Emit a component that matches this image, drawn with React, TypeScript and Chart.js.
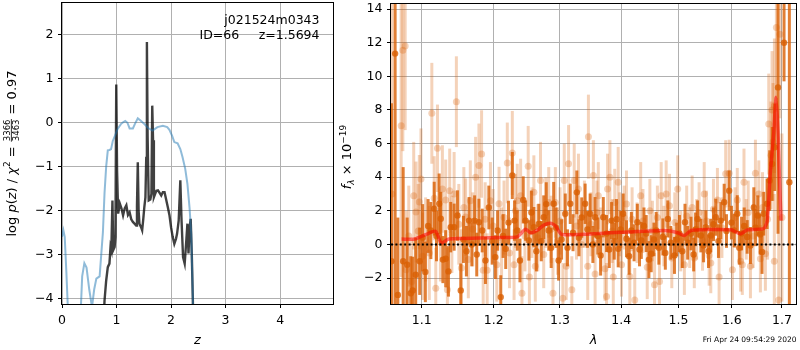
import React, { useEffect, useRef } from 'react';
import { Chart, registerables } from 'chart.js';

Chart.register(...registerables);

// ---------------- left panel: log p(z) ----------------
const zTicks = [0, 1, 2, 3, 4];
const logpTicks = [-4, -3, -2, -1, 0, 1, 2];

const zPrior = [0, 0.025, 0.05, 0.08, 0.11, 0.2, 0.34, 0.37, 0.41, 0.45, 0.5, 0.55, 0.59, 0.63, 0.69, 0.72, 0.75, 0.78, 0.81, 0.84, 0.87, 0.9, 0.93, 0.97, 1.02, 1.08, 1.12, 1.16, 1.2, 1.24, 1.3, 1.34, 1.39, 1.44, 1.51, 1.58, 1.66, 1.75, 1.85, 1.93, 1.97, 2.02, 2.06, 2.12, 2.17, 2.21, 2.26, 2.3, 2.34, 2.37, 2.4, 2.43];
const logpPrior = [-2.6, -2.45, -2.6, -3.4, -4.3, -6, -4.4, -3.5, -3.2, -3.3, -3.8, -4.2, -3.8, -3.55, -3.5, -3.0, -2.5, -1.6, -1.0, -0.63, -0.62, -0.6, -0.42, -0.3, -0.14, -0.03, 0.01, 0.04, 0.0, -0.13, -0.13, -0.02, 0.1, 0.05, -0.03, -0.12, -0.18, -0.1, -0.07, -0.1, -0.16, -0.3, -0.44, -0.47, -0.6, -0.78, -1.05, -1.39, -1.95, -2.53, -4.0, -6];

const zFit = [0.76, 0.78, 0.81, 0.84, 0.87, 0.89, 0.905, 0.925, 0.94, 0.965, 0.98, 0.995, 1.01, 1.03, 1.06, 1.09, 1.12, 1.15, 1.18, 1.21, 1.24, 1.27, 1.3, 1.33, 1.36, 1.375, 1.39, 1.405, 1.42, 1.45, 1.47, 1.49, 1.51, 1.53, 1.545, 1.557, 1.57, 1.59, 1.62, 1.64, 1.655, 1.67, 1.685, 1.7, 1.73, 1.76, 1.79, 1.82, 1.85, 1.88, 1.91, 1.94, 1.97, 2.0, 2.03, 2.06, 2.09, 2.11, 2.14, 2.17, 2.19, 2.22, 2.25, 2.28, 2.3, 2.32, 2.34, 2.36, 2.38, 2.4, 2.42];
const logpFit = [-4.6, -4.05, -3.6, -3.29, -3.21, -2.83, -2.9, -1.77, -2.9, -2.83, -2.6, 0.87, -1.1, -2.07, -1.84, -1.95, -2.11, -1.95, -1.88, -2.1, -2.04, -2.2, -2.26, -2.3, -2.34, -1.9, -0.9, -2.0, -2.3, -2.38, -2.45, -2.2, -1.92, -1.7, -0.8, 1.84, -0.3, -1.77, -1.75, -1.62, 0.39, -0.4, -1.7, -1.65, -1.55, -1.54, -1.6, -1.66, -1.58, -1.58, -1.75, -1.92, -2.1, -2.38, -2.6, -2.76, -2.65, -2.53, -2.23, -1.31, -2.15, -3.06, -3.21, -2.68, -2.3, -2.98, -2.38, -2.19, -2.98, -4.05, -6];

// ---------------- right panel: spectrum ----------------
const lamTicks = [1.1, 1.2, 1.3, 1.4, 1.5, 1.6, 1.7];
const fluxTicks = [-2, 0, 2, 4, 6, 8, 10, 12, 14];

const lamDark = [1.0605, 1.0653, 1.0688, 1.0757, 1.0809, 1.0856, 1.0882, 1.0921, 1.0974, 1.1013,
  1.1049, 1.1086, 1.1123, 1.1168, 1.1199, 1.1235, 1.1257, 1.1286, 1.1324, 1.1362,
  1.1393, 1.1440, 1.1486, 1.1532, 1.1569, 1.1611, 1.1648, 1.1687, 1.1727, 1.1757,
  1.1788, 1.1835, 1.1881, 1.1930, 1.1978, 1.2024, 1.2057, 1.2103, 1.2137, 1.2176,
  1.2217, 1.2273, 1.2306, 1.2347, 1.2387, 1.2436, 1.2472, 1.2521, 1.2559, 1.2597,
  1.2635, 1.2672, 1.2710, 1.2748, 1.2787, 1.2825, 1.2863, 1.2902, 1.2940, 1.2979,
  1.3026, 1.3084, 1.3120, 1.3163, 1.3207, 1.3268, 1.3302, 1.3347, 1.3402, 1.3439,
  1.3483, 1.3528, 1.3564, 1.3609, 1.3655, 1.3699, 1.3753, 1.3798, 1.3837, 1.3882,
  1.3920, 1.3948, 1.3990, 1.4032, 1.4088, 1.4133, 1.4172, 1.4218, 1.4274, 1.4312,
  1.4343, 1.4389, 1.4428, 1.4475, 1.4515, 1.4563, 1.4603, 1.4650, 1.4721, 1.4765,
  1.4810, 1.4863, 1.4929, 1.4970, 1.5019, 1.5070, 1.5120, 1.5169, 1.5230, 1.5279,
  1.5315, 1.5352, 1.5413, 1.5463, 1.5505, 1.5556, 1.5599, 1.5649, 1.5693, 1.5744,
  1.5788, 1.5853, 1.5897, 1.5949, 1.5993, 1.6046, 1.6106, 1.6145, 1.6190, 1.6241,
  1.6300, 1.6364, 1.6431, 1.6466, 1.6510, 1.6555, 1.6595, 1.6629, 1.6696, 1.6750,
  1.6797, 1.6851, 1.6918, 1.7042, 1.7152];
const fluxDark = [-1.0, 11.35, -3.0, -1.0, -1.2, -2.9, -2.73, -1.8, -1.0, 0.4,
  -1.63, 1.1, 0.83, 2.13, 0.5, 2.42, 1.53, -0.9, -0.85, -1.6,
  1.03, 1.03, 1.72, -2.73, 0.3, -0.4, 1.42, 0.0, 1.42, -0.6,
  1.32, 0.83, -0.95, 2.2, 0.2, -0.75, 0.83, -3.13, 0.5, -0.26,
  1.3, 4.1, 1.42, 0.83, -0.95, 2.65, 1.42, 0.24, 1.9, 1.03,
  -0.4, 1.22, 0.2, 1.62, 2.4, 0.83, -0.2, 2.42, 1.0, -0.95,
  0.3, 1.83, -0.2, 2.42, 0.7, 3.1, 0.4, 1.6, 2.42, 0.9,
  1.83, 0.0, 1.62, 0.5, -0.65, 1.62, 0.65, -0.3, 1.42, 0.2,
  1.5, -0.26, 0.9, 1.83, 0.34, -0.7, 0.83, 0.1, 1.32, -0.3,
  0.24, 1.1, 0.65, -0.9, -0.55, 0.3, 0.83, -0.2, 0.45, -0.5,
  1.52, 0.1, -0.65, 0.3, 0.65, -0.4, 1.32, 0.1, 0.65, -0.6,
  0.9, 1.52, 0.53, -0.06, 1.03, -0.4, 0.53, 1.2, 1.62, 0.2,
  1.42, 2.51, 0.8, 3.2, 1.3, 0.83, 1.83, -0.2, 0.65, 1.1,
  0.45, -0.06, 2.2, 1.0, 1.72, 0.6, -0.45, 1.83, 2.42, 3.8,
  4.79, 5.78, 9.34, 12.0, 3.7];
const errDark = [9.4, 20, 4.6, 5.6, 2.8, 2.2, 2.0, 2.2, 2.0, 2.0,
  1.8, 1.6, 1.7, 1.6, 1.5, 1.8, 1.6, 1.4, 1.7, 1.5,
  1.5, 1.4, 1.5, 1.6, 1.4, 1.5, 1.4, 1.3, 1.5, 1.3,
  1.4, 1.3, 1.4, 1.3, 1.4, 1.3, 1.2, 1.3, 1.3, 1.2,
  1.3, 1.4, 1.2, 1.2, 1.3, 1.4, 1.2, 1.2, 1.3, 1.2,
  1.2, 1.2, 1.2, 1.3, 1.3, 1.2, 1.2, 1.3, 1.2, 1.2,
  1.2, 1.2, 1.1, 1.2, 1.1, 1.3, 1.1, 1.2, 1.2, 1.1,
  1.2, 1.1, 1.2, 1.1, 1.2, 1.2, 1.1, 1.1, 1.1, 1.1,
  1.2, 1.1, 1.1, 1.2, 1.1, 1.1, 1.1, 1.1, 1.1, 1.0,
  1.1, 1.1, 1.1, 1.1, 1.1, 1.0, 1.1, 1.0, 1.1, 1.0,
  1.1, 1.0, 1.1, 1.0, 1.1, 1.0, 1.1, 1.0, 1.0, 1.0,
  1.0, 1.1, 1.0, 1.0, 1.0, 1.0, 1.0, 1.0, 1.1, 1.0,
  1.1, 1.1, 1.0, 1.2, 1.0, 1.0, 1.1, 1.0, 1.0, 1.1,
  1.0, 1.1, 1.2, 1.1, 1.2, 1.2, 1.3, 1.3, 1.5, 1.8,
  2.2, 2.6, 8.7, 2.3, 25];

const lamLight = [1.0612, 1.0731, 1.0753, 1.0783, 1.0795, 1.0830, 1.0869, 1.0895, 1.0925, 1.0954,
  1.0969, 1.0991, 1.1013, 1.1053, 1.1102, 1.1136, 1.1168, 1.1189, 1.1212, 1.1252,
  1.1279, 1.1324, 1.1347, 1.1379, 1.1409, 1.1440, 1.1471, 1.1505, 1.1541, 1.1575,
  1.1600, 1.1638, 1.1666, 1.1701, 1.1741, 1.1788, 1.1826, 1.1849, 1.1877, 1.1906,
  1.1953, 1.1992, 1.2045, 1.2078, 1.2115, 1.2151, 1.2199, 1.2232, 1.2273, 1.2299,
  1.2320, 1.2347, 1.2397, 1.2417, 1.2462, 1.2511, 1.2529, 1.2567, 1.2597, 1.2619,
  1.2657, 1.2698, 1.2748, 1.2779, 1.2825, 1.2863, 1.2891, 1.2928, 1.2963, 1.3002,
  1.3046, 1.3068, 1.3099, 1.3136, 1.3188, 1.3226, 1.3263, 1.3294, 1.3342, 1.3390,
  1.3444, 1.3455, 1.3496, 1.3536, 1.3564, 1.3593, 1.3617, 1.3658, 1.3727, 1.3753,
  1.3770, 1.3809, 1.3848, 1.3865, 1.3890, 1.3948, 1.3973, 1.4004, 1.4049, 1.4088,
  1.4145, 1.4184, 1.4230, 1.4269, 1.4332, 1.4372, 1.4446, 1.4492, 1.4536, 1.4574,
  1.4624, 1.4662, 1.4691, 1.4739, 1.4780, 1.4840, 1.4881, 1.4935, 1.4988, 1.5042,
  1.5109, 1.5151, 1.5206, 1.5251, 1.5291, 1.5334, 1.5380, 1.5444, 1.5475, 1.5518,
  1.5568, 1.5599, 1.5649, 1.5724, 1.5756, 1.5810, 1.5882, 1.5949, 1.6012, 1.6061,
  1.6106, 1.6171, 1.6204, 1.6237, 1.6281, 1.6320, 1.6364, 1.6418, 1.6463, 1.6530,
  1.6562, 1.6605, 1.6662, 1.6706, 1.6730, 1.6776, 1.6797, 1.6817, 1.6843, 1.6845,
  1.6885, 1.6932, 1.6999, 1.6958];
const fluxLight = [3.0, 7.06, 11.55, 11.8, -1.5, 0.5, -2.2, 2.9, 1.93, 0.8,
  2.52, 3.9, -0.7, 0.3, -0.5, 7.8, 2.75, -2.6, 5.72, 0.2,
  3.3, 2.65, -2.7, 3.2, 0.6, 3.0, 8.49, 1.2, -1.4, 2.2,
  1.63, -0.9, 2.6, 0.9, 4.0, 4.69, 5.38, -1.54, 1.5, -1.54,
  2.6, 1.1, -1.2, 2.42, 0.1, 1.6, 4.85, -0.5, 5.44, -1.2,
  2.0, 2.6, 2.9, -2.9, 0.5, 4.65, -1.94, 1.3, 3.1, -1.3,
  0.4, 3.8, -0.6, 1.9, 2.5, 0.9, -2.9, 2.5, 0.2, 1.4,
  -3.2, 3.8, -1.3, 4.8, -2.7, 3.8, 1.1, 3.3, 0.0, 1.8,
  -1.3, 6.41, 1.2, 4.1, -1.75, 1.9, 2.9, 0.3, -1.45, -3.1,
  3.3, 4.0, 0.8, -1.94, 2.5, 3.7, 1.2, -1.2, 1.6, 2.4,
  -1.9, 1.5, -3.3, 0.7, 2.9, 1.4, -1.35, 2.0, 0.8, -2.4,
  1.6, -2.2, 2.9, 0.5, 3.0, 2.3, -0.8, 1.3, 3.3, 0.2,
  -1.2, 1.7, 0.4, 2.2, -0.8, 0.9, 1.9, 0.24, 3.0, 1.4,
  -0.65, -1.1, 2.1, 2.65, -1.94, 1.0, 4.2, 4.23, -1.5, 1.6,
  2.65, -1.0, -1.2, 3.7, 0.9, 1.9, -1.3, 0.5, 4.23, 3.0,
  -0.85, 2.2, -0.55, 1.5, 7.16, 5.3, 8.0, 6.1, -1.0, 8.25,
  12.9, -3.3, 1.6, 12.5];
const errLight = [12, 9, 6, 5, 3.5, 3.0, 2.5, 3.2, 3.0, 2.8,
  2.8, 3.0, 2.6, 2.5, 2.8, 3.0, 2.5, 2.4, 2.6, 2.4,
  2.6, 2.4, 2.5, 2.5, 2.3, 2.5, 2.7, 2.4, 2.3, 2.4,
  2.3, 2.3, 2.4, 2.2, 2.4, 2.5, 2.6, 2.3, 2.2, 2.2,
  2.3, 2.2, 2.2, 2.2, 2.1, 2.2, 2.4, 2.1, 2.5, 2.1,
  2.2, 2.2, 2.2, 2.2, 2.1, 2.4, 2.1, 2.1, 2.2, 2.1,
  2.0, 2.3, 2.0, 2.1, 2.1, 2.0, 2.1, 2.1, 2.0, 2.0,
  2.1, 2.2, 2.0, 2.3, 2.0, 2.2, 2.0, 2.1, 2.0, 2.0,
  2.0, 2.5, 1.9, 2.1, 2.0, 1.9, 2.0, 1.9, 1.9, 2.0,
  2.1, 2.2, 1.9, 1.9, 2.0, 2.1, 1.9, 1.9, 1.9, 2.0,
  1.9, 1.9, 1.9, 1.8, 2.0, 1.9, 1.9, 1.9, 1.8, 1.9,
  1.9, 1.9, 2.0, 1.8, 2.0, 1.9, 1.8, 1.8, 2.0, 1.8,
  1.8, 1.8, 1.8, 1.9, 1.8, 1.8, 1.8, 1.8, 1.9, 1.8,
  1.8, 1.8, 1.8, 1.9, 1.8, 1.8, 2.0, 2.0, 1.8, 1.8,
  1.9, 1.8, 1.8, 2.0, 1.8, 1.9, 1.9, 1.9, 2.0, 2.0,
  2.0, 2.1, 2.2, 2.4, 3.0, 3.2, 3.5, 3.5, 4.0, 4.0,
  5.0, 5.0, 5.0, 5.0];

const lamModel = [1.0736, 1.0908, 1.1062, 1.1186, 1.1263, 1.1353, 1.1468, 1.1792, 1.2126, 1.2346, 1.247, 1.2547, 1.265, 1.275, 1.285, 1.293, 1.303, 1.37, 1.475, 1.4989, 1.511, 1.523, 1.554, 1.598, 1.617, 1.63, 1.663, 1.67, 1.676, 1.683, 1.688, 1.692, 1.695, 1.698];
const fluxModel = [0.32, 0.32, 0.6, 0.78, 0.08, 0.3, 0.35, 0.38, 0.42, 0.45, 0.91, 0.69, 0.85, 1.15, 1.26, 1.1, 0.59, 0.67, 0.83, 0.7, 0.53, 0.83, 0.89, 0.87, 0.63, 0.87, 0.95, 1.42, 4.2, 6.6, 8.75, 6.6, 3.8, 1.42];

const lamZero = [1.06, 1.729];
const fluxZero = [0, 0];

// ---------------- helpers ----------------
const FONT = '"DejaVu Sans", "Liberation Sans", sans-serif';
const fmtNum = (v: number, d = -1) => {
  const s = d >= 0 ? Math.abs(v).toFixed(d) : String(Math.abs(v));
  return v < 0 ? '\u2212' + s : s;
};
const pts = (xs: number[], ys: number[]) => xs.map((x, i) => ({ x, y: ys[i] }));

const errBars = {
  id: 'errBars',
  beforeDatasetDraw(chart: any, args: any) {
    const ds: any = chart.data.datasets[args.index];
    if (!ds.errs) return;
    const { ctx, chartArea: a } = chart;
    const xs = chart.scales.x, ys = chart.scales.y;
    ctx.save();
    ctx.beginPath();
    ctx.rect(a.left, a.top, a.right - a.left, a.bottom - a.top);
    ctx.clip();
    ctx.strokeStyle = ds.errColor;
    ctx.lineWidth = ds.errWidth;
    ds.data.forEach((p: any, i: number) => {
      const px = xs.getPixelForValue(p.x);
      ctx.beginPath();
      ctx.moveTo(px, ys.getPixelForValue(p.y - ds.errs[i]));
      ctx.lineTo(px, ys.getPixelForValue(p.y + ds.errs[i]));
      ctx.stroke();
    });
    ctx.restore();
  },
};

const frame = {
  id: 'frame',
  afterDraw(chart: any) {
    const { ctx, chartArea: a } = chart;
    ctx.save();
    ctx.strokeStyle = '#000';
    ctx.lineWidth = 1;
    const l = Math.round(a.left) - 0.5, t = Math.round(a.top) - 0.5;
    const r = Math.round(a.right) + 0.5, b = Math.round(a.bottom) + 0.5;
    ctx.strokeRect(l, t, r - l, b - t);
    ctx.restore();
  },
};

type Part = [string, string, number];
function drawParts(ctx: CanvasRenderingContext2D, parts: (Part | 'FRAC')[], frac: [string, string] | null, fracFont: string) {
  let total = 0;
  const widths: number[] = [];
  let fracW = 0;
  if (frac) {
    ctx.font = fracFont;
    fracW = Math.max(ctx.measureText(frac[0]).width, ctx.measureText(frac[1]).width) + 2;
  }
  parts.forEach((p) => {
    if (p === 'FRAC') { widths.push(fracW); total += fracW; return; }
    ctx.font = p[1];
    const w = ctx.measureText(p[0]).width;
    widths.push(w);
    total += w;
  });
  let x = -total / 2;
  ctx.textBaseline = 'alphabetic';
  parts.forEach((p, i) => {
    if (p === 'FRAC' && frac) {
      ctx.font = fracFont;
      ctx.textAlign = 'center';
      const cx = x + fracW / 2;
      ctx.fillText(frac[0], cx, -5.6);
      ctx.fillText(frac[1], cx, 3.6);
      ctx.fillRect(x + 0.5, -4.6, fracW - 1, 0.8);
      ctx.textAlign = 'left';
    } else if (p !== 'FRAC') {
      ctx.font = p[1];
      ctx.textAlign = 'left';
      ctx.fillText(p[0], x, p[2]);
    }
    x += widths[i];
  });
}

const leftText = {
  id: 'leftText',
  afterDraw(chart: any) {
    const { ctx, chartArea: a } = chart;
    ctx.save();
    ctx.fillStyle = '#000';
    ctx.font = `12.5px ${FONT}`;
    ctx.textBaseline = 'alphabetic';
    ctx.textAlign = 'right';
    ctx.fillText('j021524m0343', 319.5, 23.5);
    ctx.fillText('z=1.5694', 319.5, 38.5);
    ctx.textAlign = 'left';
    ctx.fillText('ID=66', 199.5, 38.5);
    ctx.font = `italic 13px ${FONT}`;
    ctx.textAlign = 'center';
    ctx.fillText('z', (a.left + a.right) / 2, 344);
    ctx.translate(15.5, (a.top + a.bottom) / 2);
    ctx.rotate(-Math.PI / 2);
    const m = `13px ${FONT}`, it = `italic 13px ${FONT}`, sm = `9px ${FONT}`;
    drawParts(ctx, [['log ', m, 0], ['p', it, 0], ['(', m, 0], ['z', it, 0], [') / ', m, 0], ['\u03c7', it, 0], ['2', sm, -5.5], [' = ', m, 0], 'FRAC', [' = 0.97', m, 0]], ['3366', '3463'], `8.5px ${FONT}`);
    ctx.restore();
  },
};

const rightText = {
  id: 'rightText',
  afterDraw(chart: any) {
    const { ctx, chartArea: a } = chart;
    ctx.save();
    ctx.fillStyle = '#000';
    ctx.font = `italic 13px ${FONT}`;
    ctx.textAlign = 'center';
    ctx.textBaseline = 'alphabetic';
    ctx.fillText('\u03bb', (a.left + a.right) / 2, 344);
    ctx.font = `7.5px ${FONT}`;
    ctx.textAlign = 'right';
    ctx.fillText('Fri Apr 24 09:54:29 2020', 466.5, 342);
    ctx.translate(21, (a.top + a.bottom) / 2 + 3);
    ctx.rotate(-Math.PI / 2);
    const m = `13px ${FONT}`, it = `italic 13px ${FONT}`, sm = `9px ${FONT}`, smi = `italic 9px ${FONT}`;
    drawParts(ctx, [['f', it, 0], ['\u03bb', smi, 3], [' \u00d7 10', m, 0], ['\u221219', sm, -5.5]], null, sm);
    ctx.restore();
  },
};

const tickFont = { family: FONT, size: 12.5 };
const gridOpts = { color: '#b0b0b0', lineWidth: 1, tickColor: '#000', tickLength: 4, tickWidth: 1 };

export default function App() {
  const leftRef = useRef<HTMLCanvasElement>(null);
  const rightRef = useRef<HTMLCanvasElement>(null);

  useEffect(() => {
    const left = new Chart(leftRef.current as HTMLCanvasElement, {
      type: 'scatter',
      data: {
        datasets: [
          { data: pts(zPrior, logpPrior), showLine: true, borderColor: 'rgba(31,119,180,0.5)', borderWidth: 2, pointRadius: 0, tension: 0, clip: 0, order: 0 } as any,
          { data: pts(zFit, logpFit), showLine: true, borderColor: 'rgba(0,0,0,0.75)', borderWidth: 2.4, pointRadius: 0, tension: 0, clip: 0, order: 1 } as any,
        ],
      },
      options: {
        responsive: false,
        animation: false,
        devicePixelRatio: 1,
        events: [],
        layout: { padding: { left: 0, top: 3, right: 7, bottom: 0 } },
        plugins: { legend: { display: false }, tooltip: { enabled: false } },
        scales: {
          x: {
            type: 'linear', min: 0, max: 4.97,
            afterBuildTicks: (s: any) => { s.ticks = zTicks.map((v) => ({ value: v })); },
            afterFit: (s: any) => { s.height = 46; s.paddingLeft = 0; s.paddingRight = 0; },
            grid: gridOpts, border: { display: false },
            ticks: { color: '#000', font: tickFont, padding: 5, maxRotation: 0, autoSkip: false, callback: (v: any) => fmtNum(Number(v)) },
          },
          y: {
            type: 'linear', min: -4.13, max: 2.729,
            afterBuildTicks: (s: any) => { s.ticks = logpTicks.map((v) => ({ value: v })); },
            afterFit: (s: any) => { s.width = 62; s.paddingTop = 0; s.paddingBottom = 0; },
            grid: gridOpts, border: { display: false },
            ticks: { color: '#000', font: tickFont, padding: 4.5, autoSkip: false, callback: (v: any) => fmtNum(Number(v)) },
          },
        },
      } as any,
      plugins: [frame, leftText],
    });

    const right = new Chart(rightRef.current as HTMLCanvasElement, {
      type: 'scatter',
      data: {
        datasets: [
          { data: pts(lamZero, fluxZero), showLine: true, borderColor: '#000', borderWidth: 2, borderDash: [2, 2.4], pointRadius: 0, order: 0 } as any,
          { data: pts(lamModel, fluxModel), showLine: true, borderColor: 'rgba(255,0,0,0.55)', borderWidth: 3.5, pointRadius: 0, tension: 0.2, order: 1 } as any,
          { data: pts(lamDark, fluxDark), errs: errDark, errColor: 'rgba(217,95,2,0.8)', errWidth: 3, pointRadius: 3.2, pointBackgroundColor: 'rgba(217,95,2,0.8)', pointBorderWidth: 0, order: 2 } as any,
          { data: pts(lamLight, fluxLight), errs: errLight, errColor: 'rgba(217,95,2,0.28)', errWidth: 3, pointRadius: 3.5, pointBackgroundColor: 'rgba(217,95,2,0.28)', pointBorderWidth: 0, order: 3 } as any,
        ],
      },
      options: {
        responsive: false,
        animation: false,
        devicePixelRatio: 1,
        events: [],
        layout: { padding: { left: 0, top: 3, right: 1, bottom: 0 } },
        plugins: { legend: { display: false }, tooltip: { enabled: false } },
        scales: {
          x: {
            type: 'logarithmic', min: 1.06, max: 1.729,
            afterBuildTicks: (s: any) => { s.ticks = lamTicks.map((v) => ({ value: v })); },
            afterFit: (s: any) => { s.height = 46; s.paddingLeft = 0; s.paddingRight = 0; },
            grid: gridOpts, border: { display: false },
            ticks: { color: '#000', font: tickFont, padding: 5, maxRotation: 0, autoSkip: false, callback: (v: any) => fmtNum(Number(v), 1) },
          },
          y: {
            type: 'linear', min: -3.54, max: 14.3,
            afterBuildTicks: (s: any) => { s.ticks = fluxTicks.map((v) => ({ value: v })); },
            afterFit: (s: any) => { s.width = 61; s.paddingTop = 0; s.paddingBottom = 0; },
            grid: gridOpts, border: { display: false },
            ticks: { color: '#000', font: tickFont, padding: 4.5, autoSkip: false, callback: (v: any) => fmtNum(Number(v)) },
          },
        },
      } as any,
      plugins: [errBars, frame, rightText],
    });

    return () => { left.destroy(); right.destroy(); };
  }, []);

  return (
    <div style={{ position: 'fixed', left: 0, top: 0, width: 800, height: 350, background: '#fff', overflow: 'hidden' }}>
      <canvas ref={leftRef} width={340} height={350} style={{ position: 'absolute', left: 0, top: 0, width: 340, height: 350 }} />
      <canvas ref={rightRef} width={470} height={350} style={{ position: 'absolute', left: 330, top: 0, width: 470, height: 350 }} />
    </div>
  );
}
